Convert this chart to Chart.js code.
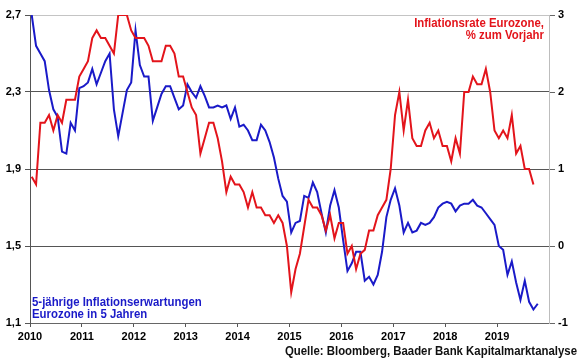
<!DOCTYPE html>
<html>
<head>
<meta charset="utf-8">
<script src="https://cdn.jsdelivr.net/npm/chart.js@4.4.1/dist/chart.umd.min.js"></script>
<style>
  html, body { margin: 0; padding: 0; background: #fff; }
  #wrap { width: 580px; height: 359px; position: relative; }
</style>
</head>
<body>
<div id="wrap"><canvas id="c" width="580" height="359"></canvas></div>
<script>
// Monthly data, Jan 2010 ... (one value per month)
const startYear = 2010;
const yearLabels = ['2010','2011','2012','2013','2014','2015','2016','2017','2018','2019'];
const leftTickLabels = ['1,1','1,5','1,9','2,3','2,7'];
const rightTickLabels = ['-1','0','1','2','3'];

// Inflationsrate Eurozone, % zum Vorjahr (right axis)
const inflationRate = [
  0.9, 0.8, 1.6, 1.6, 1.7, 1.5, 1.7, 1.6, 1.9, 1.9, 1.9, 2.2,
  2.3, 2.4, 2.7, 2.8, 2.7, 2.7, 2.6, 2.5, 3.0, 3.0, 3.0, 2.8,
  2.7, 2.7, 2.7, 2.6, 2.4, 2.4, 2.4, 2.6, 2.6, 2.5, 2.2, 2.2,
  2.0, 1.8, 1.7, 1.2, 1.4, 1.6, 1.6, 1.4, 1.1, 0.7, 0.9, 0.8,
  0.8, 0.7, 0.5, 0.7, 0.5, 0.5, 0.4, 0.4, 0.3, 0.4, 0.3, 0.0,
  -0.6, -0.3, -0.1, 0.25, 0.6, 0.5, 0.5, 0.4, 0.2, 0.4, 0.1, 0.3,
  0.3, -0.1, 0.0, -0.3, -0.1, -0.05, 0.2, 0.2, 0.4, 0.5, 0.6, 1.0,
  1.7, 2.0, 1.5, 1.9, 1.4, 1.3, 1.3, 1.5, 1.6, 1.4, 1.5, 1.3,
  1.3, 1.1, 1.4, 1.2, 2.0, 2.0, 2.2, 2.1, 2.1, 2.3, 2.0, 1.5,
  1.4, 1.5, 1.4, 1.7, 1.2, 1.3, 1.0, 1.0, 0.8
];

// 5-jährige Inflationserwartungen Eurozone in 5 Jahren (left axis)
const inflationExpectations = [
  2.70, 2.54, 2.50, 2.46, 2.31, 2.21, 2.17, 1.99, 1.98, 2.14, 2.10, 2.32,
  2.33, 2.35, 2.42, 2.34, 2.40, 2.46, 2.50, 2.21, 2.07, 2.19, 2.31, 2.35,
  2.62, 2.44, 2.38, 2.38, 2.15, 2.22, 2.29, 2.33, 2.33, 2.27, 2.21, 2.23,
  2.34, 2.30, 2.27, 2.33, 2.28, 2.22, 2.22, 2.23, 2.22, 2.23, 2.16, 2.22,
  2.12, 2.13, 2.10, 2.05, 2.05, 2.13, 2.10, 2.04, 1.96, 1.85, 1.76, 1.73,
  1.57, 1.62, 1.63, 1.76, 1.75, 1.83, 1.78, 1.67, 1.57, 1.71, 1.79, 1.70,
  1.53, 1.37, 1.41, 1.47, 1.47, 1.32, 1.34, 1.30, 1.35, 1.47, 1.65, 1.74,
  1.80, 1.71, 1.57, 1.62, 1.57, 1.58, 1.62, 1.61, 1.62, 1.65, 1.70, 1.72,
  1.73, 1.72, 1.68, 1.71, 1.72, 1.72, 1.74, 1.71, 1.70, 1.67, 1.64, 1.61,
  1.50, 1.48, 1.35, 1.42, 1.31, 1.22, 1.32, 1.21, 1.17, 1.20
];

const toPoints = arr => arr.map((v, i) => ({ x: startYear + (i + 0.4) / 12, y: v }));

const FONT = '"Liberation Sans", Arial, sans-serif';
const tickFont = { family: FONT, size: 11, weight: 'bold' };

const textPlugin = {
  id: 'texts',
  afterDraw(chart) {
    const ctx = chart.ctx;
    const draw = (text, x, y, color, align) => {
      ctx.save();
      ctx.font = 'bold 12px ' + FONT;
      const w = ctx.measureText(text).width * 0.95;
      const left = align === 'right' ? x - w : x;
      ctx.translate(left, y);
      ctx.scale(0.95, 1);
      ctx.fillStyle = color;
      ctx.textAlign = 'left';
      ctx.textBaseline = 'alphabetic';
      ctx.fillText(text, 0, 0);
      ctx.restore();
    };
    draw('Inflationsrate Eurozone,', 544, 27, '#e3141b', 'right');
    draw('% zum Vorjahr', 544, 39, '#e3141b', 'right');
    draw('5-jährige Inflationserwartungen', 32, 306, '#1a1ac8', 'left');
    draw('Eurozone in 5 Jahren', 32, 318, '#1a1ac8', 'left');
    draw('Quelle: Bloomberg, Baader Bank Kapitalmarktanalyse', 577, 355, '#111', 'right');
  }
};

new Chart(document.getElementById('c'), {
  type: 'line',
  data: {
    datasets: [
      {
        label: 'Inflationsrate Eurozone',
        data: toPoints(inflationRate),
        yAxisID: 'y2',
        borderColor: '#e3141b',
        borderWidth: 2,
        pointRadius: 0,
        tension: 0,
        fill: false
      },
      {
        label: '5-jährige Inflationserwartungen',
        data: toPoints(inflationExpectations),
        yAxisID: 'y',
        borderColor: '#1a1ac8',
        borderWidth: 2,
        pointRadius: 0,
        tension: 0,
        fill: false
      }
    ]
  },
  options: {
    responsive: false,
    devicePixelRatio: 1,
    animation: false,
    layout: { padding: { top: 15, left: 0, right: 0, bottom: 0 } },
    plugins: { legend: { display: false }, tooltip: { enabled: false } },
    scales: {
      x: {
        type: 'linear',
        min: startYear,
        max: startYear + 10,
        afterFit: s => { s.height = 36; },
        afterBuildTicks: s => { s.ticks = yearLabels.map((l, i) => ({ value: startYear + i })).concat([{ value: startYear + 10 }]); },
        ticks: {
          autoSkip: false,
          maxRotation: 0,
          padding: 3,
          font: tickFont,
          color: '#000',
          callback: (v) => { const i = Math.round(v - startYear); return i < yearLabels.length ? yearLabels[i] : null; }
        },
        grid: { drawOnChartArea: false, drawTicks: true, tickLength: 4, tickColor: '#555' },
        border: { display: true, color: '#666', width: 1 }
      },
      y: {
        position: 'left',
        min: 1.1,
        max: 2.7,
        afterFit: s => { s.width = 30; },
        afterBuildTicks: s => { s.ticks = leftTickLabels.map((l, i) => ({ value: 1.1 + 0.4 * i })); },
        ticks: {
          padding: 4,
          font: tickFont,
          color: '#000',
          callback: (v, i) => leftTickLabels[i]
        },
        grid: {
          drawOnChartArea: true,
          drawTicks: true,
          tickLength: 5,
          tickColor: '#555',
          color: (c) => (c.index === leftTickLabels.length - 1 ? '#c4c4c4' : '#555'),
          lineWidth: 1
        },
        border: { display: true, color: '#555', width: 1 }
      },
      y2: {
        position: 'right',
        min: -1,
        max: 3,
        afterFit: s => { s.width = 31; },
        afterBuildTicks: s => { s.ticks = rightTickLabels.map((l, i) => ({ value: -1 + i })); },
        ticks: {
          padding: 3,
          font: tickFont,
          color: '#000',
          callback: (v, i) => rightTickLabels[i]
        },
        grid: { drawOnChartArea: false, drawTicks: true, tickLength: 6, tickColor: '#666' },
        border: { display: true, color: '#bdbdbd', width: 1 }
      }
    }
  },
  plugins: [textPlugin]
});
</script>
</body>
</html>
